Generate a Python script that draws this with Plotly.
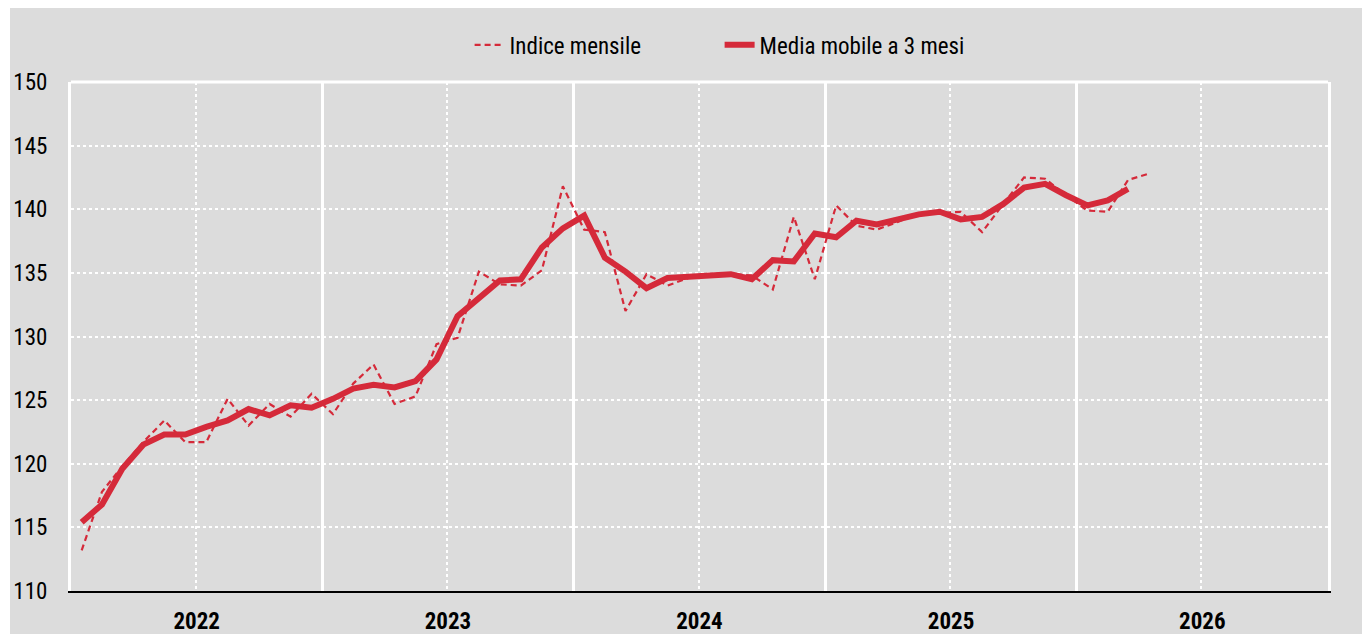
import pandas as pd
import plotly.graph_objects as go

# Monthly categories (Jan 2022 onward), plotted at mid-month
start_month = "2022-01-01"

indice_mensile = [
    113.2, 117.8, 119.8, 121.7, 123.4, 121.7, 121.7, 125.1, 123.0, 124.7, 123.7, 125.5,
    123.9, 126.3, 127.8, 124.7, 125.3, 129.4, 129.9, 135.1, 134.1, 134.0, 135.2, 141.8,
    138.4, 138.2, 132.0, 134.9, 134.0, 134.6, 134.9, 134.9, 134.8, 133.7, 139.4, 134.5,
    140.3, 138.7, 138.4, 139.0, 139.7, 139.7, 139.8, 138.2, 140.4, 142.5, 142.4, 141.1,
    139.9, 139.8, 142.3, 142.8,
]

media_mobile = [
    115.4, 116.8, 119.6, 121.5, 122.3, 122.3, 122.9, 123.4, 124.3, 123.8, 124.6, 124.4,
    125.1, 125.9, 126.2, 126.0, 126.5, 128.2, 131.6, 133.0, 134.4, 134.5, 137.0, 138.5,
    139.5, 136.2, 135.1, 133.8, 134.6, 134.7, 134.8, 134.9, 134.5, 136.0, 135.9, 138.1,
    137.8, 139.1, 138.8, 139.2, 139.6, 139.8, 139.2, 139.4, 140.4, 141.7, 142.0, 141.1,
    140.3, 140.7, 141.6,
]

series_names = ["Indice mensile", "Media mobile a 3 mesi"]
y_ticks = [110, 115, 120, 125, 130, 135, 140, 145, 150]


def mid_months(n):
    starts = pd.date_range(start_month, periods=n + 1, freq="MS")
    return [starts[i] + (starts[i + 1] - starts[i]) / 2 for i in range(n)]


RED = "#D52A3A"
GRAY = "#DCDCDC"
FONT = "Liberation Sans Narrow, Arial Narrow, Roboto Condensed, Liberation Sans, Arial, sans-serif"

fig = go.Figure()
fig.add_trace(go.Scatter(
    x=mid_months(len(indice_mensile)), y=indice_mensile, mode="lines",
    name=series_names[0],
    line=dict(color=RED, width=2.2, dash="6px,4px"),
))
fig.add_trace(go.Scatter(
    x=mid_months(len(media_mobile)), y=media_mobile, mode="lines",
    name=series_names[1],
    line=dict(color=RED, width=6),
))

fig.update_layout(
    width=1362, height=634,
    margin=dict(l=71, r=34, t=82, b=43, autoexpand=False),
    paper_bgcolor="white",
    plot_bgcolor=GRAY,
    font=dict(family=FONT, color="black"),
    showlegend=True,
    legend=dict(
        orientation="h", x=0.516, xanchor="center", y=1.073, yanchor="middle",
        font=dict(size=23, family=FONT), bgcolor="rgba(0,0,0,0)",
        itemwidth=30, entrywidth=205, entrywidthmode="pixels",
    ),
    xaxis=dict(
        type="date",
        range=["2022-01-01", "2027-01-01"],
        tick0="2022-01-01", dtick="M12",
        tickformat="%Y", ticklabelmode="period",
        tickfont=dict(size=23, family=FONT, weight="bold", color="black"),
        ticks="", ticklabelstandoff=8,
        showgrid=True, gridcolor="white", gridwidth=3,
        minor=dict(tick0="2022-01-01", dtick="M6", showgrid=True,
                   gridcolor="white", gridwidth=1.5, griddash="dot", ticks=""),
        showline=True, linecolor="black", linewidth=2,
        zeroline=False, automargin=False,
    ),
    yaxis=dict(
        range=[110, 150],
        tickvals=y_ticks,
        tickfont=dict(size=23, family=FONT, color="black"),
        ticks="", ticklabelstandoff=16,
        showgrid=True, gridcolor="white", gridwidth=1.5, griddash="dot",
        showline=True, linecolor="white", linewidth=3, mirror=True,
        zeroline=False, automargin=False,
    ),
    shapes=[
        dict(type="rect", xref="paper", yref="paper",
             x0=(10 - 71) / 1257, x1=1.2, y0=-0.3, y1=(591 - 8) / 509,
             fillcolor=GRAY, line=dict(width=0), layer="below"),
        dict(type="line", xref="paper", yref="paper", x0=0, x1=1, y0=1, y1=1,
             line=dict(color="white", width=3), layer="above"),
    ],
)

fig.write_html("out.html")
